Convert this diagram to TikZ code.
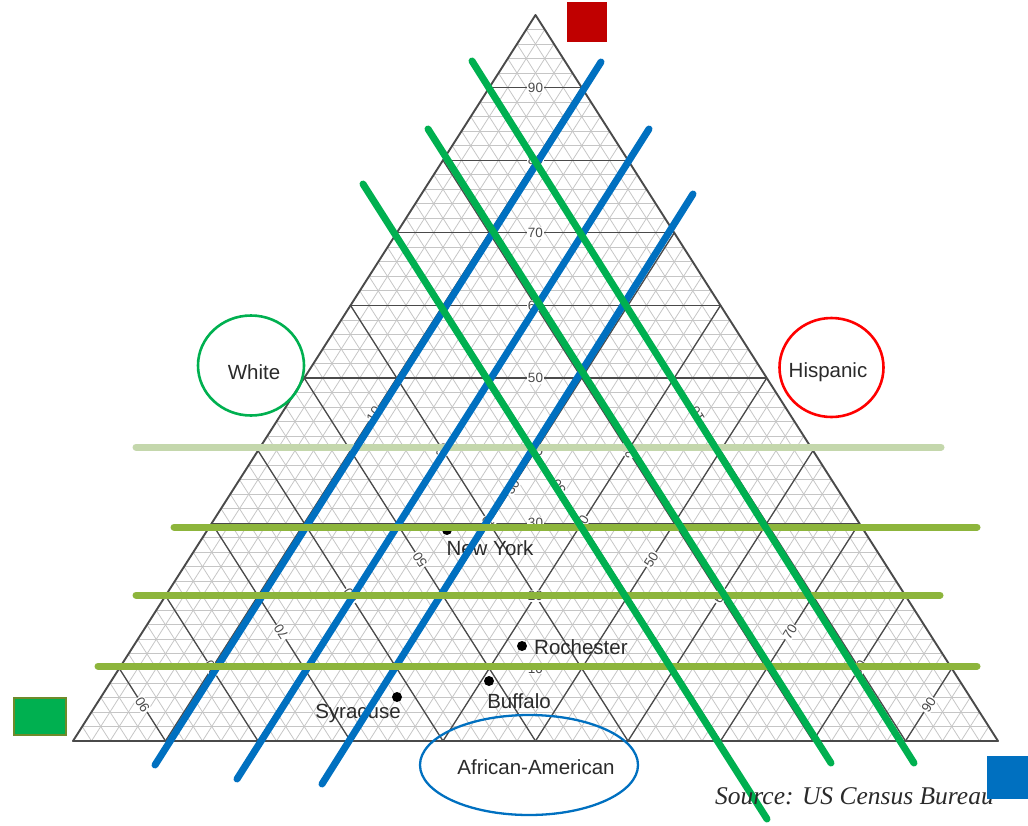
\documentclass[tikz,border=0pt]{standalone}
\usepackage{fontspec}
\setmainfont{Liberation Sans}
\newfontfamily\srcfont{Liberation Serif}
\usetikzlibrary{shapes.geometric}
\definecolor{xgreen}{HTML}{00B050}
\definecolor{xblue}{HTML}{0070C0}
\definecolor{xred}{HTML}{FF0000}
\definecolor{xdarkred}{HTML}{C00000}
\definecolor{lgreen}{HTML}{C4D7AC}
\definecolor{ogreen}{HTML}{8DB53C}
\definecolor{oliveb}{HTML}{6E8B2A}
\definecolor{gridmaj}{HTML}{4A4A4A}
\definecolor{gridmin}{HTML}{C6C6C6}
\definecolor{txt}{HTML}{2A2A2A}
\begin{document}
\begin{tikzpicture}[x=1pt,y=-1pt,
  gridminor/.style={draw=gridmin,line width=0.8pt},
  gridmajor/.style={draw=gridmaj,line width=1.3pt},
  outline/.style={draw=gridmaj,line width=1.9pt,line join=round},
  ticklbl/.style={font=\fontsize{13.5}{13.5}\selectfont,text=gridmaj,fill=white,inner sep=1pt},
  city/.style={font=\fontsize{20.5}{20.5}\selectfont,text=txt,inner sep=0pt},
  dot/.style={circle,fill=black,inner sep=0pt,minimum size=10pt},
  annot/.style={line width=7pt,line cap=round},
  ring/.style={ellipse,inner sep=0pt,line width=2.6pt},
  sq/.style={inner sep=0pt}]
\useasboundingbox (0,0) rectangle (1028,825);
\coordinate (L) at (73,741);
\coordinate (R) at (998,741);
\coordinate (T) at (535.5,15);
% minor grid
\foreach \i [evaluate=\i as \a using \i/100, evaluate=\i as \b using 1-\i/100] in {2,4,...,98} {
  \draw[gridminor] (barycentric cs:L=\b,T=\a) -- (barycentric cs:R=\b,T=\a);
  \draw[gridminor] (barycentric cs:L=\a,T=\b) -- (barycentric cs:L=\a,R=\b);
  \draw[gridminor] (barycentric cs:R=\a,T=\b) -- (barycentric cs:R=\a,L=\b);
}
% major grid
\foreach \i [evaluate=\i as \a using \i/100, evaluate=\i as \b using 1-\i/100] in {10,20,...,90} {
  \draw[gridmajor] (barycentric cs:L=\b,T=\a) -- (barycentric cs:R=\b,T=\a);
  \draw[gridmajor] (barycentric cs:L=\a,T=\b) -- (barycentric cs:L=\a,R=\b);
  \draw[gridmajor] (barycentric cs:R=\a,T=\b) -- (barycentric cs:R=\a,L=\b);
}
\draw[outline] (L) -- (R) -- (T) -- cycle;
% tick labels
\foreach \v [evaluate=\v as \a using \v/100, evaluate=\v as \h using (1-\v/100)/2] in {10,20,...,90} {
  \node[ticklbl] (c\v) at (barycentric cs:T=\a,L=\h,R=\h) {\v};
  \node[ticklbl,rotate=122.5] (l\v) at (barycentric cs:L=\a,T=\h,R=\h) {\v};
  \node[ticklbl,rotate=57.5] (r\v) at (barycentric cs:R=\a,T=\h,L=\h) {\v};
}
% cities
\node[dot] (nyd) at (447,530) {};
\node[city] (nyl) at (490,548) {New York};
\node[dot] (rod) at (522,646) {};
\node[city,anchor=west] (rol) at (534,647) {Rochester};
\node[dot] (bud) at (489,681) {};
\node[city] (bul) at (519,701) {Buffalo};
\node[dot] (syd) at (397,697) {};
\node[city] (syl) at (358,713) {Syracuse};
% annotation strokes
\coordinate (h1a) at (136,447); \coordinate (h1b) at (941,447);
\coordinate (h2a) at (174,527); \coordinate (h2b) at (977,527);
\coordinate (h3a) at (136,595); \coordinate (h3b) at (940,595);
\coordinate (h4a) at (98,666);  \coordinate (h4b) at (977,666);
\coordinate (g1a) at (472,61);  \coordinate (g1b) at (914,763);
\coordinate (g2a) at (428,129); \coordinate (g2b) at (831,763);
\coordinate (g3a) at (363,184); \coordinate (g3b) at (767,819);
\coordinate (b1a) at (601,62);  \coordinate (b1b) at (155,765);
\coordinate (b2a) at (649,129); \coordinate (b2b) at (237,779);
\coordinate (b3a) at (693,194); \coordinate (b3b) at (322,784);
\draw[annot,lgreen] (h1a) -- (h1b);
\draw[annot,xblue] (b1a) -- (b1b);
\draw[annot,xblue] (b2a) -- (b2b);
\draw[annot,xblue] (b3a) -- (b3b);
\draw[annot,ogreen] (h2a) -- (h2b);
\draw[annot,ogreen] (h3a) -- (h3b);
\draw[annot,ogreen] (h4a) -- (h4b);
\draw[annot,xgreen] (g1a) -- (g1b);
\draw[annot,xgreen] (g2a) -- (g2b);
\draw[annot,xgreen] (g3a) -- (g3b);
% circled labels
\node[ring,draw=xgreen,minimum width=106pt,minimum height=100pt] (wc) at (251,365.5) {};
\node[city] (wt) at (254,372) {White};
\node[ring,draw=xred,minimum width=104pt,minimum height=99pt] (hc) at (831.5,367.5) {};
\node[city] (ht) at (828,372) {Hispanic};
\node[ring,draw=xblue,line width=2.3pt,minimum width=218pt,minimum height=100pt] (ac) at (529,765) {};
\node[city] (at) at (536,767) {African-American};
% source
\node[anchor=west,text=txt,inner sep=0pt,font=\srcfont\itshape\fontsize{25.5}{25.5}\selectfont] (src) at (715,796) {Source: US Census Bureau};
% colour keys
\node[sq,fill=xdarkred,minimum width=40pt,minimum height=40pt] (kred) at (587,22) {};
\node[sq,fill=xgreen,draw=oliveb,line width=2pt,minimum width=52pt,minimum height=37pt] (kgreen) at (39.5,716) {};
\node[sq,fill=xblue,minimum width=41pt,minimum height=43pt] (kblue) at (1007.5,777.5) {};
\end{tikzpicture}
\end{document}
